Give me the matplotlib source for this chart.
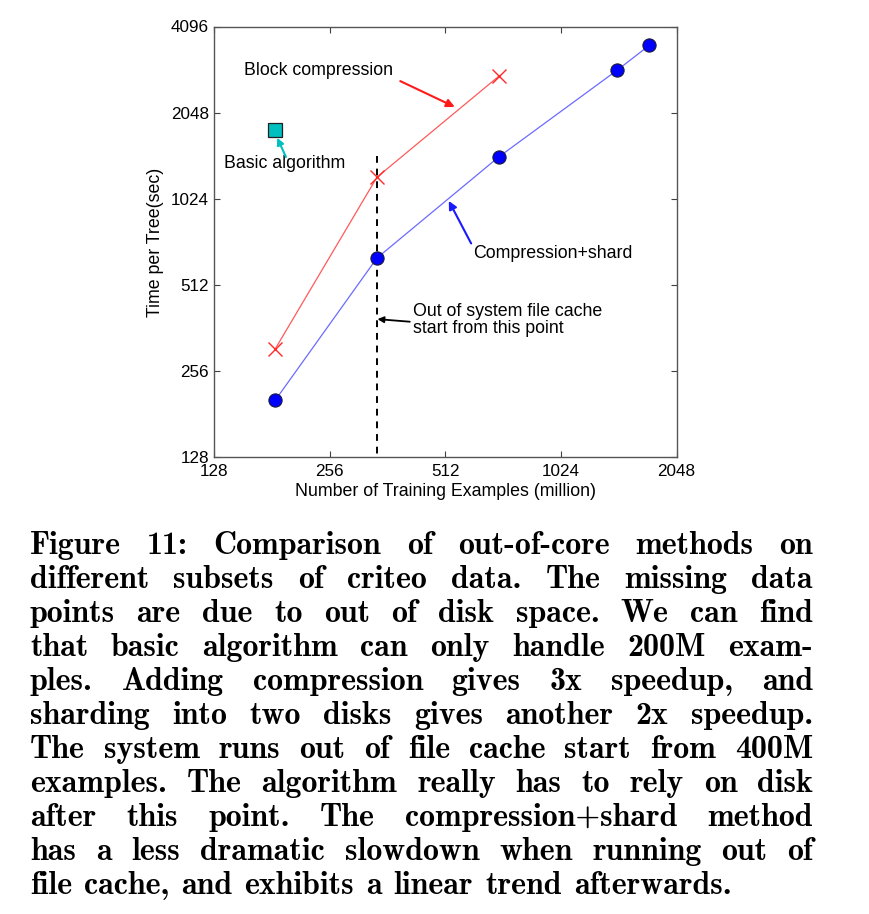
import matplotlib
matplotlib.use('Agg')
import matplotlib.pyplot as plt
from matplotlib.ticker import FixedLocator, FixedFormatter, NullLocator

# data (million examples, sec per tree)
shard_x = [185, 340, 705, 1435, 1740]
shard_y = [203, 636, 1433, 2882, 3520]
block_x = [185, 340, 705]
block_y = [307, 1218, 2742]
basic_x = [185]
basic_y = [1785]
cache_x = 340

ticks_x = [128, 256, 512, 1024, 2048]
ticks_y = [128, 256, 512, 1024, 2048, 4096]

caption = [
    "Figure 11: Comparison of out-of-core methods on",
    "different subsets of criteo data. The missing data",
    "points are due to out of disk space. We can find",
    "that basic algorithm can only handle 200M exam-",
    "ples. Adding compression gives 3x speedup, and",
    "sharding into two disks gives another 2x speedup.",
    "The system runs out of file cache start from 400M",
    "examples. The algorithm really has to rely on disk",
    "after this point. The compression+shard method",
    "has a less dramatic slowdown when running out of",
    "file cache, and exhibits a linear trend afterwards.",
]

W, H = 869, 914
plt.rcParams['font.family'] = ['Liberation Sans', 'DejaVu Sans']
fig = plt.figure(figsize=(W / 100, H / 100), dpi=100)
ax = fig.add_axes([214 / W, 1 - 457.3 / H, 462.5 / W, 430.8 / H])

ax.set_xscale('log', base=2)
ax.set_yscale('log', base=2)
ax.set_xlim(128, 2048)
ax.set_ylim(128, 4096)

ax.plot(shard_x, shard_y, color='#6b6bff', lw=0.9, zorder=2)
ax.plot(shard_x, shard_y, 'o', ms=9.5, mfc='#0000ff', mec='#1a1a3a', mew=0.8, zorder=3)
ax.plot(block_x, block_y, color='#ff5a5a', lw=0.9, zorder=2)
ax.plot(block_x, block_y, 'x', ms=10, mec='#ff2a2a', mew=1.0, zorder=3)
ax.plot(basic_x, basic_y, 's', ms=9.5, mfc='#00bfbf', mec='#202020', mew=0.9, zorder=3)
ax.plot([cache_x, cache_x], [1443, 128], '--', color='black', lw=1.4, dashes=(3.5, 3), zorder=1)

fs = 12.8


def arrow(tail, head, color, lw=1.5, ms=12):
    ax.annotate('', xy=head, xytext=tail,
                arrowprops=dict(arrowstyle='-|>', color=color, lw=lw,
                                mutation_scale=ms, shrinkA=0, shrinkB=0))


ax.text(153, 2882, 'Block compression', fontsize=fs, va='center', ha='left')
arrow((391, 2640), (542, 2145), '#ff1a1a')
ax.text(135.6, 1364, 'Basic algorithm', fontsize=fs, va='center', ha='left')
arrow((197, 1434), (187, 1673), '#00bfbf', ms=10)
ax.text(604, 662, 'Compression+shard', fontsize=fs, va='center', ha='left')
arrow((598, 715), (523, 1007), '#1a1aff')
ax.text(421, 386, 'Out of system file cache\nstart from this point', fontsize=fs,
        va='center', ha='left', linespacing=1.0)
arrow((414, 381), (341, 389), 'black', lw=1.3, ms=9)

ax.xaxis.set_major_locator(FixedLocator(ticks_x))
ax.xaxis.set_major_formatter(FixedFormatter([str(t) for t in ticks_x]))
ax.yaxis.set_major_locator(FixedLocator(ticks_y))
ax.yaxis.set_major_formatter(FixedFormatter([str(t) for t in ticks_y]))
ax.xaxis.set_minor_locator(NullLocator())
ax.yaxis.set_minor_locator(NullLocator())
ax.tick_params(direction='in', top=True, right=True, length=4, width=0.8,
               labelsize=12.3, color='#404040')
ax.tick_params(axis='x', pad=5)
ax.tick_params(axis='y', pad=3.5)
for s in ax.spines.values():
    s.set_color('#555555')
    s.set_linewidth(1.0)
ax.set_xlabel('Number of Training Examples (million)', fontsize=fs, labelpad=3)
ax.set_ylabel('Time per Tree(sec)', fontsize=fs, labelpad=5)

# justified caption, positions in pixels
r = fig.canvas.get_renderer()
x0, x1 = 30, 813
cap_font = dict(family='cmb10', fontsize=23, va='baseline', ha='left')
for i, line in enumerate(caption):
    yb = 554 + i * 34.0
    words = line.split(' ')
    texts = [fig.text(0, 1 - yb / H, w, **cap_font) for w in words]
    widths = [t.get_window_extent(r).width for t in texts]
    if i == len(caption) - 1:
        gap = 12
    else:
        gap = (x1 - x0 - sum(widths)) / (len(words) - 1)
    x = x0
    for t, wd in zip(texts, widths):
        t.set_x(x / W)
        x += wd + gap

fig.savefig('out.png', dpi=100)
